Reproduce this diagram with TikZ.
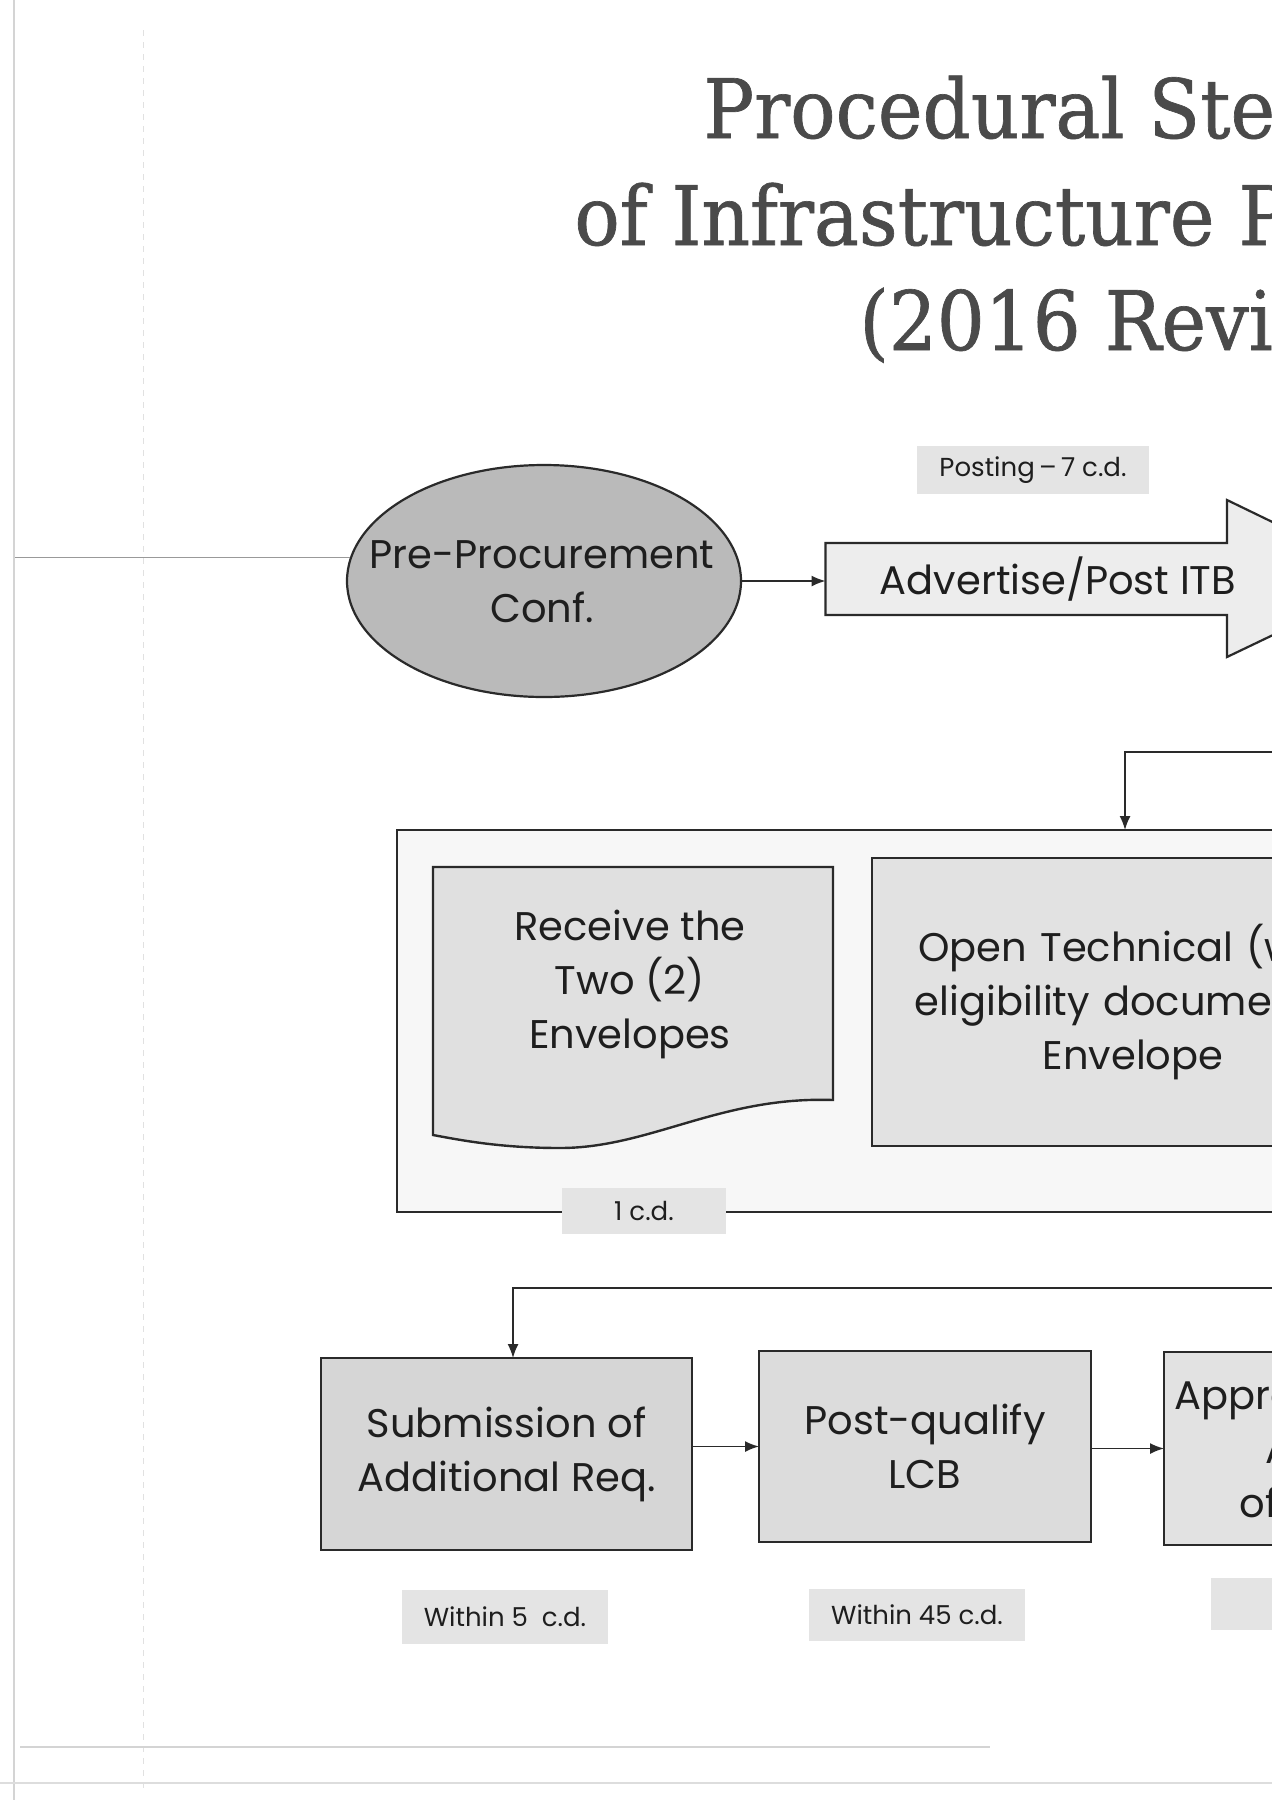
\documentclass[tikz,border=0pt]{standalone}
\usepackage{fontspec}
\setmainfont{Poppins}
\newfontfamily\titlefont[FakeStretch=0.92,FakeBold=0.8]{DejaVu Serif}
\usetikzlibrary{shapes.geometric,arrows.meta}
\definecolor{ink}{HTML}{2A2A2A}
\definecolor{txt}{HTML}{1E1E1E}
\definecolor{titlegray}{HTML}{4A4A4A}
\definecolor{ellfill}{HTML}{BABABA}
\definecolor{arrfill}{HTML}{EDEDED}
\definecolor{outerfill}{HTML}{F7F7F7}
\definecolor{docfill}{HTML}{E0E0E0}
\definecolor{subfill}{HTML}{D6D6D6}
\definecolor{pqfill}{HTML}{DCDCDC}
\definecolor{apfill}{HTML}{E2E2E2}
\definecolor{lblfill}{HTML}{E4E4E4}
\definecolor{scan}{HTML}{D4D4D4}
\newcommand\bodyfnt{\fontsize{20}{27}\selectfont}
\newcommand\lblfnt{\fontsize{13}{15}\selectfont}
\newcommand\ttlfnt{\titlefont\fontsize{41}{41}\selectfont}
\begin{document}
\begin{tikzpicture}[x=0.5pt,y=-0.5pt,
  ttl/.style={anchor=base west, inner sep=0, font=\ttlfnt, text=titlegray},
  box/.style={draw=ink, line width=1.2pt, inner sep=0, outer sep=0, align=center, font=\bodyfnt, text=txt},
  plain/.style={inner sep=0, outer sep=0, align=center, font=\bodyfnt, text=txt},
  lbl/.style={fill=lblfill, inner sep=0, outer sep=0, font=\lblfnt, text=txt},
  conn/.style={draw=ink, line width=0.8pt, -{Latex[length=7pt,width=5.5pt]}},
  wire/.style={draw=ink, line width=0.8pt}]
\useasboundingbox (0,0) rectangle (1272,1800);
\clip (0,0) rectangle (1272,1800);
\fill[white] (0,0) rectangle (1272,1800);

% faint scan marks
\draw[scan, line width=0.6pt] (14,0) -- (14,1800);
\draw[scan!70, line width=0.5pt, dashed] (143,30) -- (143,1790);
\draw[scan, line width=0.6pt] (20,1747) -- (990,1747);
\draw[scan!80, line width=0.6pt] (0,1783) -- (1272,1783);

% title
\node[ttl] (t1) at (703,138) {Procedural Steps};
\node[ttl] (t2) at (574,245) {of Infrastructure Projects};
\node[ttl] (t3) at (859,350) {(2016 Revised IRR)};

% row 1
\node[ellipse, draw=ink, fill=ellfill, line width=1.1pt, minimum width=197pt, minimum height=116pt,
      inner sep=0, outer sep=0] (preconf) at (544,581) {};
\node[plain] (pretext) at (542,582) {Pre-Procurement\\Conf.};
\draw[gray!80, line width=0.5pt] (15,557) -- (350,557);
\node[inner sep=0, outer sep=0, minimum width=200.5pt, minimum height=36pt] (advert) at (1026,579) {};
\draw[draw=ink, fill=arrfill, line width=1.1pt]
  (advert.north west) -- (1227,543) -- (1227,500) -- (1390,579) -- (1227,657) -- (1227,615) -- (advert.south west) -- cycle;
\node[plain] (advtext) at (1058,579) {Advertise/Post ITB};
\node[lbl, minimum width=116pt, minimum height=24pt] (posting) at (1033,470) {Posting\,–\,7 c.d.};
\draw[conn] (preconf.east) -- (preconf.east -| advert.west);

% row 2
\coordinate (c1) at (1300,752);
\coordinate (c1b) at (1125,752);
\node[draw=ink, fill=outerfill, line width=1.1pt, inner sep=0, outer sep=0, minimum width=601.5pt, minimum height=191pt] (outer) at (998.5,1021) {};
\draw[conn] (c1) -- (c1b) -- (c1b |- outer.north);
\draw[draw=ink, fill=docfill, line width=1.2pt]
  (433,867) -- (833,867) -- (833,1100)
  .. controls (720,1096) and (650,1148) .. (560,1148)
  .. controls (500,1148) and (460,1140) .. (433,1135) -- cycle;
\node[plain] (recv) at (630,984) {Receive the\\Two (2)\\Envelopes};
\node[box, fill=apfill, minimum width=261pt, minimum height=144pt, text width=261pt] (opentech) at (1133,1002) {Open Technical (with\\eligibility documents)\\Envelope};
\node[lbl, minimum width=82pt, minimum height=23pt] (onecd) at (644,1211) {1 c.d.};

% row 3
\coordinate (c2) at (1300,1288);
\coordinate (c2b) at (513,1288);
\node[box, fill=subfill, minimum width=185.5pt, minimum height=96pt] (subm) at (506.5,1454) {Submission of\\Additional Req.};
\node[box, fill=pqfill, minimum width=166pt, minimum height=95.5pt] (postq) at (925,1446.5) {Post-qualify\\LCB};
\node[box, fill=apfill, minimum width=166pt, minimum height=96.5pt, text width=166pt] (appr) at (1330,1448.5) {Approval of the\\Award\\of Award};
\draw[conn] (c2) -- (c2b) -- (c2b |- subm.north);
\draw[conn] (postq.west -| subm.east) -- (postq.west);
\draw[conn] (appr.west -| postq.east) -- (appr.west);
\node[lbl, minimum width=103pt, minimum height=27pt] (within5) at (505,1617) {Within 5\ \ c.d.};
\node[lbl, minimum width=108pt, minimum height=26pt] (within45) at (917,1615) {Within 45 c.d.};
\node[lbl, minimum width=105pt, minimum height=26pt] (within3) at (1316,1604) {};
\end{tikzpicture}
\end{document}
